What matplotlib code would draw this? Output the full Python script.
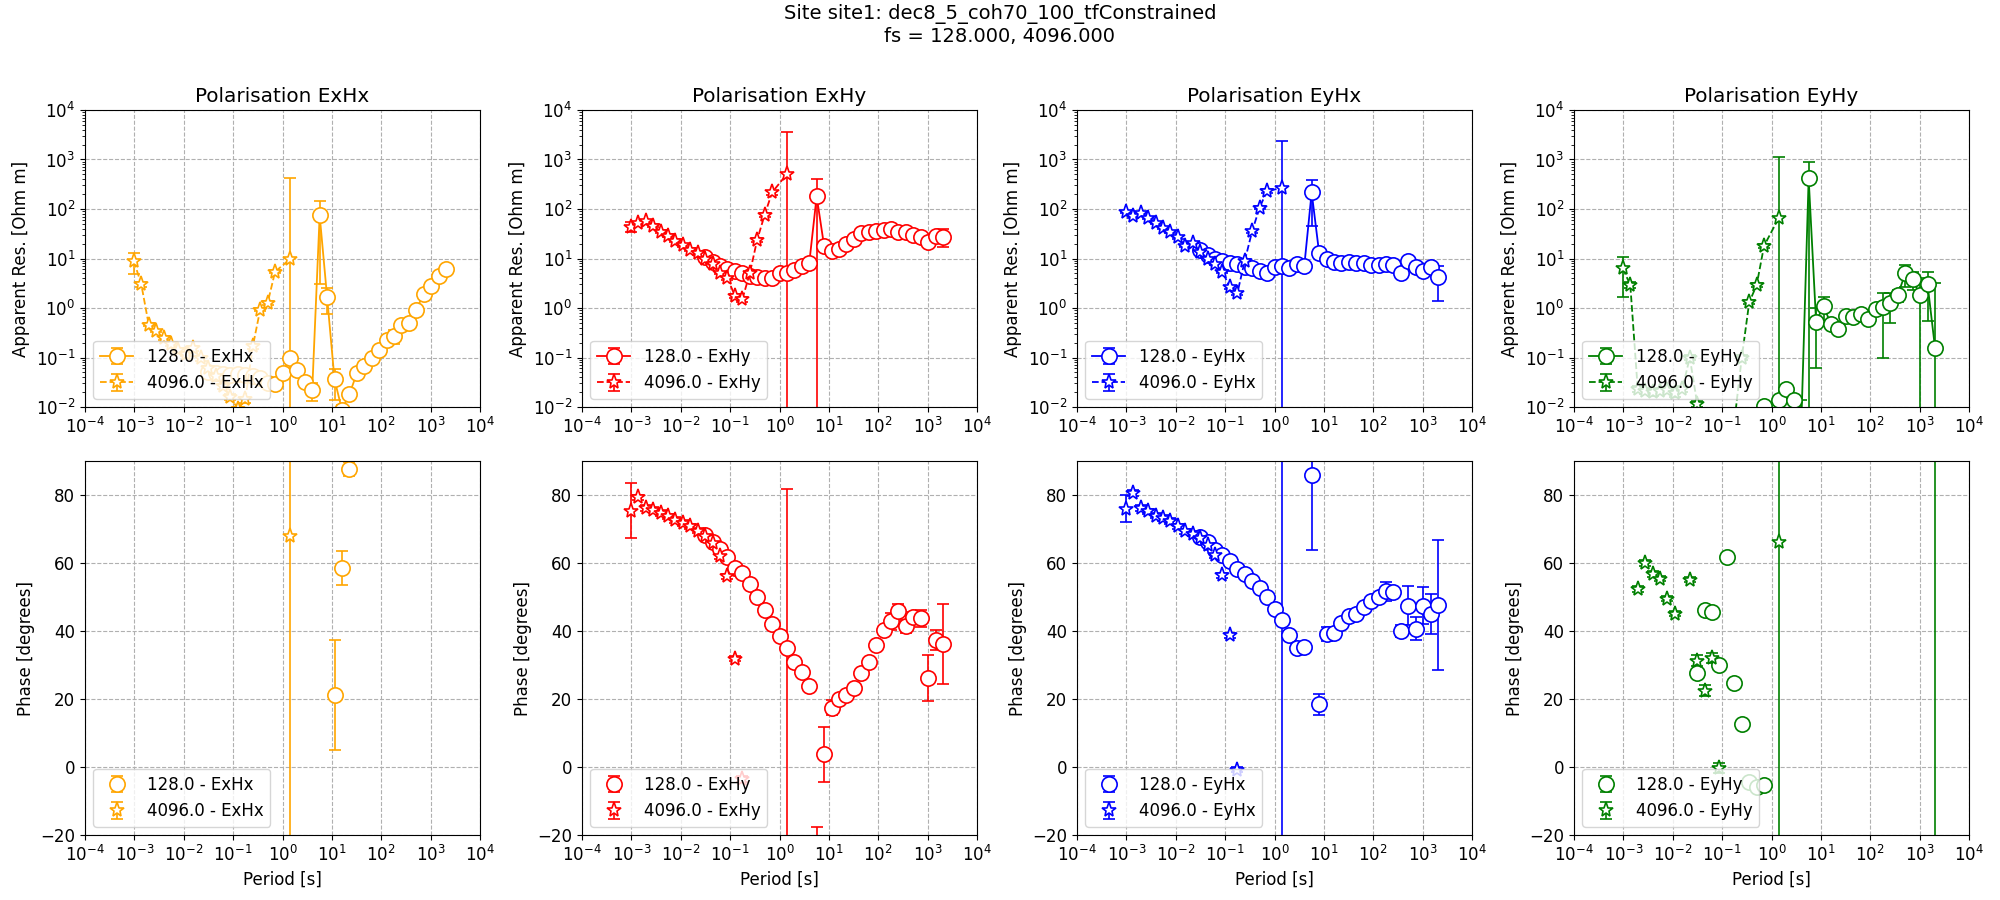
import matplotlib
matplotlib.use("Agg")
import matplotlib.pyplot as plt
import numpy as np

nan = np.nan

# ── Datos ──────────────────────────────────────────────────────────────────────

PERIODS_128 = [0.03125, 0.0442, 0.0625, 0.0884, 0.125, 0.1768, 0.25, 0.3536,
               0.5, 0.7071, 1.0, 1.414, 2.0, 2.828, 4.0, 5.657, 8.0, 11.31,
               16.0, 22.63, 32.0, 45.25, 64.0, 90.51, 128.0, 181.0, 256.0,
               362.0, 512.0, 724.1, 1024.0, 1448.2, 2048.0]
PERIODS_4096 = [0.000977, 0.001381, 0.001953, 0.002762, 0.003906, 0.005524,
                0.007813, 0.01105, 0.015625, 0.0221, 0.03125, 0.0442, 0.0625,
                0.0884, 0.125, 0.1768, 0.25, 0.3536, 0.5, 0.7071, 1.414]

# ExHx
EXHX_RES_128 = [0.05, 0.048, 0.046, 0.044, 0.046, 0.044, 0.042, 0.038, 0.031, 0.029,
                0.048, 0.097, 0.056, 0.032, 0.022, 75, 1.67, 0.036, 0.0088, 0.018,
                0.048, 0.068, 0.10, 0.143, 0.23, 0.27, 0.46, 0.50, 0.92, 1.95,
                2.75, 4.4, 6.2]
EXHX_RES_128_ERR = [0.004, 0.004, 0.004, 0.004, 0.004, 0.004, 0.004, 0.004, 0.003, 0.003,
                    0.005, 0.01, 0.006, 0.004, 0.0085, 72, 0.9, 0.022, 0.002, 0.002,
                    0.004, 0.005, 0.008, 0.01, 0.02, 0.085, 0.04, 0.04, 0.08, 0.15,
                    0.2, 0.3, 0.5]
EXHX_RES_4096 = [8.9, 3.0, 0.46, 0.34, 0.25, 0.186, 0.14, 0.118, 0.154, 0.096, 0.062,
                 0.043, 0.026, 0.016, 0.009, 0.0142, 0.167, 0.93, 1.26, 5.4, 9.7]
EXHX_RES_4096_ERR = [4.1, 0.3, 0.03, 0.02, 0.02, 0.015, 0.012, 0.012, 0.02, 0.01, 0.006,
                     0.004, 0.003, 0.002, 0.001, 0.002, 0.02, 0.06, 0.1, 0.4, 410]
EXHX_PHA_128 = [nan] * 17 + [21.3, 58.5, 87.7] + [nan] * 13
EXHX_PHA_128_ERR = [nan] * 17 + [16.2, 5.0, 2.0] + [nan] * 13
EXHX_PHA_4096 = [nan] * 20 + [68.0]
EXHX_PHA_4096_ERR = [nan] * 20 + [500]

# ExHy
EXHY_RES_128 = [10.8, 8.5, 7.1, 6.1, 5.5, 5.2, 4.5, 4.2, 4.0, 4.1, 5.2, 5.2, 5.9, 7.1,
                8.0, 180, 18, 14.3, 15.4, 20, 25, 32, 35, 36, 37, 38.6, 33.6, 33.6,
                29.6, 26.6, 22, 28.8, 27.8]
EXHY_RES_128_ERR = [0.5, 0.4, 0.3, 0.3, 0.3, 0.2, 0.2, 0.2, 0.2, 0.2, 0.3, 0.3, 0.3, 0.4,
                    0.5, 220, 1.5, 0.8, 0.8, 1, 1.2, 1.5, 1.5, 1.5, 2, 2, 2, 2, 2, 2,
                    2.5, 3, 11]
EXHY_RES_4096 = [44, 51, 56, 46, 35, 29, 23, 18.6, 15, 12.8, 10, 7.7, 5.2, 4.0, 1.76,
                 1.5, 5.0, 24, 76, 216, 508]
EXHY_RES_4096_ERR = [10, 3, 3, 3, 2, 2, 1.5, 1.2, 1, 0.8, 0.6, 0.5, 0.4, 0.3, 0.15,
                     0.15, 0.5, 2, 6, 20, 3100]
EXHY_PHA_128 = [68.3, 66.2, 64.2, 61.7, 58.5, 57.1, 53.8, 50.0, 46.1, 42.1, 38.4, 35.0,
                30.9, 27.9, 23.9, -40.0, 3.8, 17.5, 20.0, 21.3, 23.2, 27.6, 30.9, 35.8,
                40.2, 42.8, 46.0, 41.4, 44.0, 43.8, 26.2, 37.3, 36.2]
EXHY_PHA_128_ERR = [0.8, 0.8, 0.8, 0.8, 0.8, 0.8, 0.8, 0.8, 0.8, 0.8, 0.8, 0.8, 0.8,
                    0.8, 0.8, 22.4, 8.1, 2.1, 0.8, 0.8, 0.8, 0.8, 0.8, 0.8, 1.0, 2.6,
                    1.8, 1.9, 1.5, 2.5, 6.7, 3.0, 11.8]
EXHY_PHA_4096 = [75.4, 79.3, 76.2, 75.7, 74.7, 73.7, 72.7, 71.8, 70.8, 69.5, 68.0,
                 65.9, 62.0, 56.1, 31.9, -3.5, nan, nan, nan, nan, -60.0]
EXHY_PHA_4096_ERR = [8.0, 0.8, 0.8, 0.8, 0.8, 0.8, 0.8, 0.8, 0.8, 0.8, 0.8, 0.8, 0.8,
                     0.8, 0.8, 0.8, nan, nan, nan, nan, 141.7]

# EyHx
EYHX_RES_128 = [15, 11.7, 9.7, 9.0, 8.3, 7.9, 6.6, 6.3, 5.6, 5.2, 6.6, 7.1, 6.3, 7.7,
                6.9, 216, 13.2, 10, 8.5, 8.0, 8.5, 8.3, 8.0, 7.3, 7.4, 7.7, 7.4, 5.2,
                9.0, 6.8, 5.5, 6.6, 4.3]
EYHX_RES_128_ERR = [0.8, 0.6, 0.5, 0.5, 0.4, 0.4, 0.4, 0.4, 0.3, 0.3, 0.4, 0.4, 0.4, 0.5,
                    0.5, 170, 0.8, 0.6, 0.5, 0.5, 0.5, 0.5, 0.5, 0.5, 0.5, 0.5, 0.6, 0.6,
                    0.8, 0.8, 0.8, 1, 2.9]
EYHX_RES_4096 = [88, 71, 83, 64.5, 52, 42, 34.6, 26.6, 18, 20.4, 13.6, 10, 7.7, 5.4,
                 2.6, 2.0, 9.0, 36, 107, 234, 261]
EYHX_RES_4096_ERR = [5, 4, 4, 3, 3, 2, 2, 1.5, 1, 1, 0.8, 0.6, 0.4, 0.3, 0.15, 0.15,
                     0.6, 2.5, 8, 20, 2100]
EYHX_PHA_128 = [67.6, 66.1, 63.9, 62.5, 60.7, 58.2, 56.8, 54.6, 52.6, 49.9, 46.5, 43.1,
                38.9, 35.0, 35.3, 86.0, 18.5, 39.1, 39.4, 42.4, 44.3, 45.0, 47.0, 48.9,
                49.9, 51.7, 51.5, 39.9, 47.5, 40.7, 47.5, 45.0, 47.7]
EYHX_PHA_128_ERR = [0.8, 0.8, 0.8, 0.8, 0.8, 0.8, 0.8, 0.8, 0.8, 0.8, 0.8, 0.8, 0.8,
                    0.8, 0.8, 22.3, 3.1, 2.0, 0.8, 0.8, 0.8, 0.8, 0.8, 0.8, 0.8, 2.8,
                    1.0, 1.8, 5.8, 3.3, 5.5, 6.0, 19.2]
EYHX_PHA_4096 = [76.0, 80.6, 76.2, 75.2, 73.9, 73.2, 72.3, 70.8, 69.3, 68.6, 67.5,
                 65.4, 62.3, 56.4, 38.7, -0.8, nan, nan, nan, nan, -100.0]
EYHX_PHA_4096_ERR = [3.9, 0.8, 0.8, 0.8, 0.8, 0.8, 0.8, 0.8, 0.8, 0.8, 0.8, 0.8, 0.8,
                     0.8, 0.8, 0.8, nan, nan, nan, nan, 300]

# EyHy
EYHY_RES_128 = [nan, nan, nan, nan, nan, nan, nan, nan, nan, 0.0103, nan, 0.0141,
                0.0226, 0.0137, 0.004, 417, 0.53, 1.1, 0.47, 0.38, 0.69, 0.67, 0.75,
                0.59, 0.94, 1.05, 1.27, 1.84, 5.0, 3.8, 1.8, 3.0, 0.158]
EYHY_RES_128_ERR = [nan, nan, nan, nan, nan, nan, nan, nan, nan, 0.001, nan, 0.0015,
                    0.002, 0.0015, 0.0097, 483, 0.47, 0.58, 0.08, 0.06, 0.1, 0.1, 0.1,
                    0.1, 0.15, 0.95, 0.78, 0.5, 2.4, 1.5, 2.2, 2.45, 3.05]
EYHY_RES_4096 = [6.3, 2.9, 0.023, 0.021, 0.02, 0.021, 0.022, 0.019, 0.023, 0.10,
                 0.0117, 0.004, 0.004, 0.004, 0.004, 0.005, 0.10, 1.3, 2.9, 18, 67]
EYHY_RES_4096_ERR = [4.6, 0.4, 0.003, 0.003, 0.003, 0.003, 0.003, 0.003, 0.003, 0.01,
                     0.0015, 0.001, 0.001, 0.001, 0.001, 0.001, 0.01, 0.12, 0.3, 2, 1050]
EYHY_PHA_128 = [27.6, 46.3, 45.6, 30.1, 61.8, 24.7, 12.6, -4.5, -6.0, -5.2] + [nan] * 22 + [150.0]
EYHY_PHA_128_ERR = [0.8] * 10 + [nan] * 22 + [400]
EYHY_PHA_4096 = [nan, nan, 52.4, 60.0, 56.8, 55.4, 49.5, 45.1, nan, 55.1, 31.3, 22.5,
                 32.1, -0.3, nan, nan, nan, nan, nan, nan, 66.2]
EYHY_PHA_4096_ERR = [nan, nan, 0.8, 0.8, 0.8, 0.8, 0.8, 0.8, nan, 0.8, 1.5, 1.5, 1.5,
                     1.5, nan, nan, nan, nan, nan, nan, 500]

POLARISATIONS = ["ExHx", "ExHy", "EyHx", "EyHy"]
COLORS = ["orange", "red", "blue", "green"]

PANELS = {
    "ExHx": (EXHX_RES_128, EXHX_RES_128_ERR, EXHX_RES_4096, EXHX_RES_4096_ERR,
             EXHX_PHA_128, EXHX_PHA_128_ERR, EXHX_PHA_4096, EXHX_PHA_4096_ERR),
    "ExHy": (EXHY_RES_128, EXHY_RES_128_ERR, EXHY_RES_4096, EXHY_RES_4096_ERR,
             EXHY_PHA_128, EXHY_PHA_128_ERR, EXHY_PHA_4096, EXHY_PHA_4096_ERR),
    "EyHx": (EYHX_RES_128, EYHX_RES_128_ERR, EYHX_RES_4096, EYHX_RES_4096_ERR,
             EYHX_PHA_128, EYHX_PHA_128_ERR, EYHX_PHA_4096, EYHX_PHA_4096_ERR),
    "EyHy": (EYHY_RES_128, EYHY_RES_128_ERR, EYHY_RES_4096, EYHY_RES_4096_ERR,
             EYHY_PHA_128, EYHY_PHA_128_ERR, EYHY_PHA_4096, EYHY_PHA_4096_ERR),
}

# ── Figura ─────────────────────────────────────────────────────────────────────

plt.rcParams["font.size"] = 12

fig = plt.figure(figsize=(20, 9), dpi=100)
fig.suptitle("Site site1: dec8_5_coh70_100_tfConstrained\nfs = 128.000, 4096.000",
             fontsize=14, y=0.995)

col_left = [85, 582, 1077, 1574]
W, H = 2000.0, 900.0
style = dict(markersize=11, mfc="white", mew=1.2, capsize=4.5, elinewidth=1.2, lw=1.3)

for i, pol in enumerate(POLARISATIONS):
    color = COLORS[i]
    (r128, r128e, r4096, r4096e, p128, p128e, p4096, p4096e) = PANELS[pol]

    ax_res = fig.add_axes([col_left[i] / W, 1 - 407 / H, 395 / W, 297 / H])
    ax_pha = fig.add_axes([col_left[i] / W, 1 - 835 / H, 395 / W, 374 / H])

    ax_res.errorbar(PERIODS_128, r128, yerr=r128e, ls="-", marker="o", color=color,
                    label=f"128.0 - {pol}", **style)
    ax_res.errorbar(PERIODS_4096, r4096, yerr=r4096e, ls="--", marker="*", color=color,
                    label=f"4096.0 - {pol}", **style)
    ax_res.set_xscale("log")
    ax_res.set_yscale("log")
    ax_res.set_xlim(1e-4, 1e4)
    ax_res.set_ylim(1e-2, 1e4)
    ax_res.set_xticks(10.0 ** np.arange(-4, 5))
    ax_res.set_yticks(10.0 ** np.arange(-2, 5))
    ax_res.set_ylabel("Apparent Res. [Ohm m]")
    ax_res.set_title(f"Polarisation {pol}")
    ax_res.grid(True, which="major", ls="--", color="#b0b0b0", lw=0.8)
    ax_res.legend(loc="lower left")

    ax_pha.errorbar(PERIODS_128, p128, yerr=p128e, ls="none", marker="o", color=color,
                    label=f"128.0 - {pol}", **style)
    ax_pha.errorbar(PERIODS_4096, p4096, yerr=p4096e, ls="none", marker="*", color=color,
                    label=f"4096.0 - {pol}", **style)
    ax_pha.set_xscale("log")
    ax_pha.set_xlim(1e-4, 1e4)
    ax_pha.set_ylim(-20, 90)
    ax_pha.set_xticks(10.0 ** np.arange(-4, 5))
    ax_pha.set_ylabel("Phase [degrees]")
    ax_pha.set_xlabel("Period [s]")
    ax_pha.grid(True, which="major", ls="--", color="#b0b0b0", lw=0.8)
    ax_pha.legend(loc="lower left")

fig.savefig("out.png", dpi=100)
